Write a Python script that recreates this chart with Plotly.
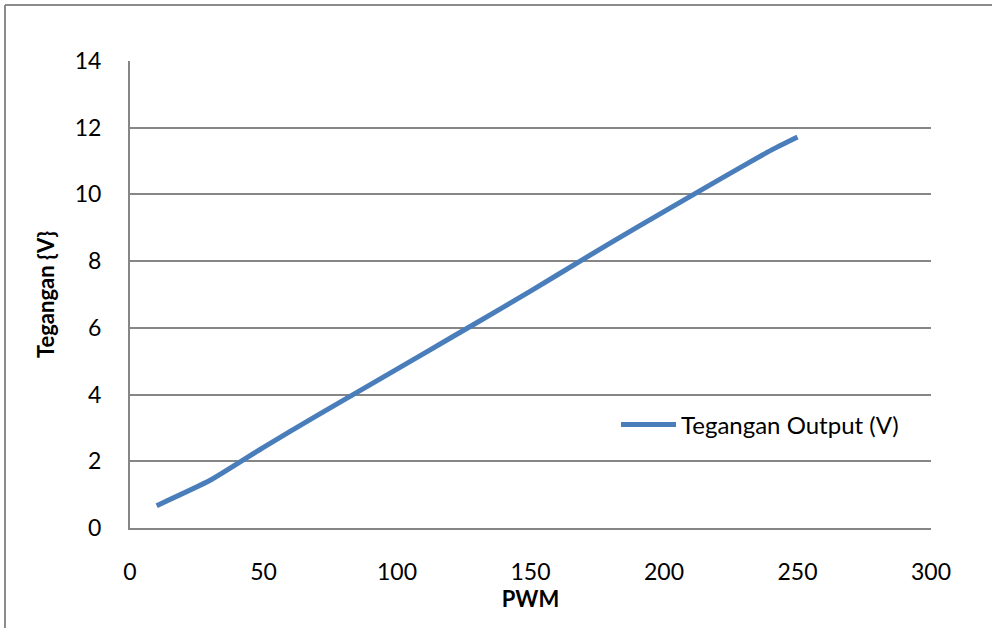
import plotly.graph_objects as go

pwm = [10, 30, 50, 70, 90, 110, 130, 150, 170, 190, 210, 230, 240, 250]
tegangan = [0.67, 1.43, 2.42, 3.37, 4.30, 5.23, 6.16, 7.10, 8.07, 9.02, 9.95, 10.87, 11.32, 11.72]
x_ticks = [0, 50, 100, 150, 200, 250, 300]
y_ticks = [0, 2, 4, 6, 8, 10, 12, 14]

W, H = 992, 628
L, R, T, B = 130, 61, 61, 100
pw, ph = W - L - R, H - T - B

def px_x(p):
    return (p - L) / pw

def px_y(p):
    return (H - B - p) / ph

font = "Lato, 'Open Sans', sans-serif"

fig = go.Figure()
fig.add_trace(go.Scatter(
    x=pwm, y=tegangan, mode="lines", name="Tegangan Output (V)",
    line=dict(color="#4A7EBB", width=5, shape="spline", smoothing=0.5),
))

fig.update_layout(
    width=W, height=H,
    margin=dict(l=L, r=R, t=T, b=B),
    paper_bgcolor="white", plot_bgcolor="white",
    font=dict(family=font, size=23, color="black"),
    showlegend=True,
    legend=dict(x=px_x(616), y=px_y(425), xanchor="left", yanchor="middle",
                bgcolor="rgba(0,0,0,0)", font=dict(size=24), itemwidth=55),
    xaxis=dict(range=[0, 300], tickvals=x_ticks, showgrid=False, zeroline=False,
               showline=True, linecolor="#868686", linewidth=2,
               ticks="", ticklabelstandoff=22,
               title=dict(text="<b>PWM</b>", font=dict(size=22), standoff=0)),
    yaxis=dict(range=[0, 14], tickvals=y_ticks, showgrid=True, gridcolor="#868686",
               gridwidth=1.5, zeroline=False, showline=True, linecolor="#868686",
               linewidth=2, ticks="", ticklabelstandoff=22,
               title=dict(text="<b>Tegangan {V}</b>", font=dict(size=22), standoff=14)),
    shapes=[
        dict(type="line", xref="paper", yref="paper",
             x0=px_x(5), x1=px_x(W + 5), y0=px_y(5), y1=px_y(5),
             line=dict(color="#8c8c8c", width=2)),
        dict(type="line", xref="paper", yref="paper",
             x0=px_x(5), x1=px_x(5), y0=px_y(5), y1=px_y(H + 5),
             line=dict(color="#8c8c8c", width=2)),
    ],
)

fig.write_html("out.html")
